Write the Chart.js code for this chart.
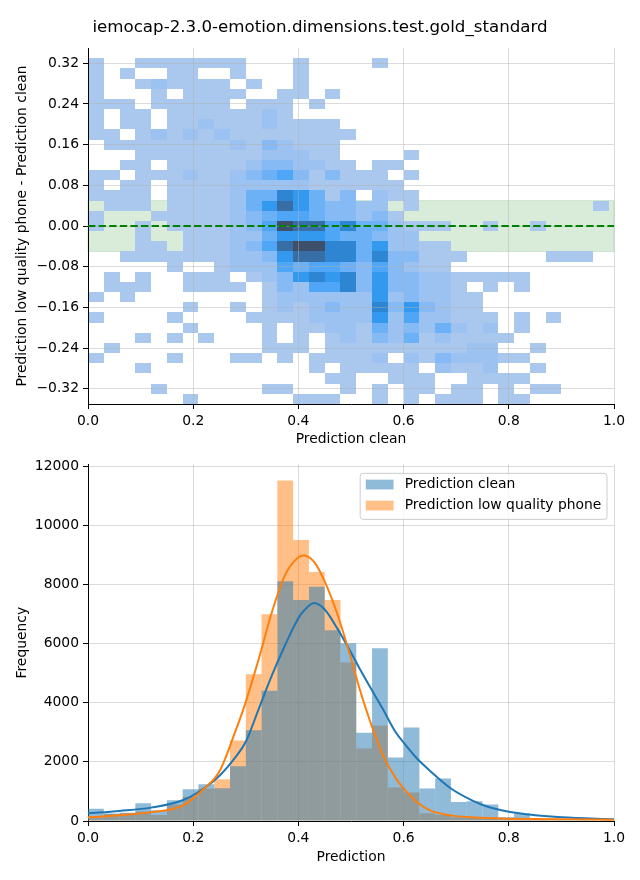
<!DOCTYPE html>
<html>
<head>
<meta charset="utf-8">
<title>iemocap-2.3.0-emotion.dimensions.test.gold_standard</title>
<script src="https://cdn.jsdelivr.net/npm/chart.js@4.4.1/dist/chart.umd.min.js"></script>
<style>
    html, body { margin: 0; padding: 0; background: #fff; }
    #wrap { position: relative; width: 640px; height: 880px; }
    canvas { position: absolute; left: 0; }
    #diffChart { top: 0; }
    #histChart { top: 452px; }
</style>
</head>
<body>
<div id="wrap">
    <canvas id="diffChart" width="640" height="452"></canvas>
    <canvas id="histChart" width="640" height="428"></canvas>
</div>
<script>
// --- Data ---
const chartTitle = 'iemocap-2.3.0-emotion.dimensions.test.gold_standard';

// prediction bins shared by both plots: 33 bins of 0.03 starting at 0
const binWidth = 0.03;

// difference bins: 34 rows of 0.02 starting at -0.35
const diffBinStart = -0.35;
const diffBinHeight = 0.02;

// 2D histogram read as colour level per cell (0 = empty, 9 = densest), top row first
const diffLevels = [
    '1001111111 0001000010 0000000000 000',
    '1010011001 0001000000 0000000000 000',
    '1001211110 1001000000 0000000000 000',
    '1000101111 0011010000 0000000000 000',
    '1110111110 1110100000 0000000000 000',
    '1011011111 1210000000 0000000000 000',
    '1011011211 1211110000 0000000000 000',
    '1101212121 1111111000 0000000000 000',
    '0111111112 1321110000 0000000000 000',
    '0001111111 1222110000 1000000000 000',
    '0011011111 2332211011 0000000000 000',
    '1101112112 3453131110 1000000000 000',
    '1011011112 2222111111 0000000000 000',
    '1111011112 4476413021 1000000000 000',
    '0111011112 4686433220 1000000000 001',
    '1000111112 3455433231 0000000000 000',
    '1001011112 3598857442 1110010010 000',
    '0001001112 2466654432 2000000000 000',
    '0001101112 3589977462 2110000000 000',
    '0011111112 2368877473 3111000001 110',
    '0000010012 2254554353 2110000000 000',
    '0101001110 1236767363 3221111100 000',
    '0111001111 0132557363 3221010100 000',
    '1010000000 0122222262 3221100000 000',
    '0000001001 0121232273 6321100000 000',
    '1000010000 1111222262 5221110101 000',
    '0000001000 0101122142 3242120100 000',
    '0001010100 0101012132 4121111000 000',
    '0100000000 0111011111 1111220010 000',
    '1000010001 1010111120 2132221100 000',
    '0001000000 0000101111 1021120010 000',
    '0000000000 0000011001 1100111100 000',
    '0000100000 0110001010 1101101011 000',
    '0000001000 0001110010 1011101100 000'
];

const agreementBand = [-0.05, 0.05];

// histogram counts per bin
const cleanCounts = [410, 250, 280, 600, 360, 700, 1070, 1240, 1110, 1850, 3070, 4400, 8110, 7470, 7920, 6450,
    6010, 2980, 5840, 2150, 3160, 1100, 1440, 640, 670, 560, 130, 250, 80, 56, 45, 35, 25];
const phoneCounts = [170, 240, 260, 320, 200, 560, 820, 1090, 1410, 2720, 4960, 6990, 11510, 9500, 8420, 7470,
    5360, 2450, 3230, 1130, 960, 260, 210, 125, 100, 80, 55, 45, 35, 25, 20, 15, 10];

// density curves (scaled to counts)
const kdeX = [0, 0.06, 0.12, 0.18, 0.22, 0.25, 0.28, 0.30, 0.325, 0.35, 0.375, 0.40, 0.41, 0.43, 0.45, 0.475,
    0.50, 0.515, 0.535, 0.56, 0.585, 0.60, 0.625, 0.65, 0.69, 0.73, 0.76, 0.80, 0.85, 0.90, 1.0];
const kdeClean = [260, 340, 452, 700, 1100, 1530, 2150, 2680, 3810, 4940, 5960, 6860, 7100, 7370, 7150, 6480,
    5700, 5200, 4570, 3800, 3000, 2650, 2120, 1700, 1100, 700, 480, 310, 195, 125, 56];
const kdePhone = [124, 195, 300, 520, 1080, 1680, 3020, 4030, 5500, 7085, 8330, 8915, 8980, 8760, 8100, 6950,
    5500, 4550, 3440, 2250, 1450, 1100, 640, 360, 190, 124, 100, 80, 65, 56, 45];

// ticks
const predTicks = [0, 0.2, 0.4, 0.6, 0.8, 1.0];
const predTickLabels = ['0.0', '0.2', '0.4', '0.6', '0.8', '1.0'];
const diffTicks = [-0.32, -0.24, -0.16, -0.08, 0, 0.08, 0.16, 0.24, 0.32];
const diffTickLabels = ['\u22120.32', '\u22120.24', '\u22120.16', '\u22120.08', '0.00', '0.08', '0.16', '0.24', '0.32'];
const freqTicks = [0, 2000, 4000, 6000, 8000, 10000, 12000];
const freqTickLabels = ['0', '2000', '4000', '6000', '8000', '10000', '12000'];

// --- Styles ---
const FONT = 'DejaVu Sans';
const GRID = 'rgba(176,176,176,0.45)';
const heatColors = ['#aac8ee', '#9cc2f2', '#86baf4', '#6cb0f6', '#4fa6f6', '#3399ee', '#2e86d2', '#386ea6', '#3d4f6a'];

Chart.defaults.font.family = FONT;
Chart.defaults.font.size = 13.89;
Chart.defaults.color = '#000';

function axisOptions(values, labels, title, min, max, isX, titlePad) {
    return {
        type: 'linear',
        min: min,
        max: max,
        offset: false,
        afterBuildTicks: s => { s.ticks = values.map(v => ({ value: v })); },
        afterFit: s => { if (isX) s.height = 46; else s.width = 88; },
        ticks: { callback: (v, i) => labels[i], padding: 4, autoSkip: false, maxRotation: 0 },
        grid: { offset: false, color: GRID, lineWidth: 1, tickLength: 5, tickColor: '#000', tickWidth: 1 },
        border: { color: '#000', width: 1 },
        title: { display: true, text: title, padding: titlePad }
    };
}

// empty right-hand box so the title is centred on the whole figure
const spacerAxis = {
    type: 'linear',
    position: 'right',
    afterFit: s => { s.width = 26; },
    ticks: { display: false },
    grid: { display: false },
    border: { display: false }
};

// --- 2D histogram drawn under the grid ---
const heatmapPlugin = {
    id: 'heatmap',
    beforeDraw(chart) {
        const { ctx, chartArea: a, scales: { x, y } } = chart;
        ctx.save();

        // agreement band
        const bTop = y.getPixelForValue(agreementBand[1]);
        const bBot = y.getPixelForValue(agreementBand[0]);
        ctx.fillStyle = 'rgba(0,128,0,0.15)';
        ctx.strokeStyle = 'rgba(0,128,0,0.15)';
        ctx.lineWidth = 1;
        ctx.fillRect(a.left, bTop, a.right - a.left, bBot - bTop);
        ctx.strokeRect(a.left, bTop, a.right - a.left, bBot - bTop);

        // cells
        const rows = diffLevels.map(r => r.replace(/ /g, ''));
        rows.forEach((row, r) => {
            const top = diffBinStart + (rows.length - r) * diffBinHeight;
            const y0 = Math.round(y.getPixelForValue(top));
            const y1 = Math.round(y.getPixelForValue(top - diffBinHeight));
            [...row].forEach((ch, c) => {
                const level = Number(ch);
                if (!level) return;
                const x0 = Math.round(x.getPixelForValue(c * binWidth));
                const x1 = Math.round(x.getPixelForValue((c + 1) * binWidth));
                ctx.fillStyle = heatColors[level - 1];
                ctx.fillRect(x0, y0, x1 - x0, y1 - y0);
            });
        });
        ctx.restore();
    }
};

// --- legend box inside the plot, top right ---
const legendBoxPlugin = {
    id: 'legendBox',
    afterDraw(chart) {
        const { ctx, chartArea: a } = chart;
        const items = chart.data.datasets.filter(d => d.type !== 'line');
        ctx.save();
        ctx.font = '13.89px "' + FONT + '"';
        const textW = Math.max(...items.map(d => ctx.measureText(d.label).width));
        const pad = 5.6, handle = 27.8, gap = 11.1, rowH = 21;
        const w = pad + handle + gap + textW + pad;
        const h = 46;
        const left = a.right - 7 - w;
        const top = a.top + 9;
        const r = 3;

        ctx.beginPath();
        ctx.moveTo(left + r, top);
        ctx.lineTo(left + w - r, top);
        ctx.arcTo(left + w, top, left + w, top + r, r);
        ctx.lineTo(left + w, top + h - r);
        ctx.arcTo(left + w, top + h, left + w - r, top + h, r);
        ctx.lineTo(left + r, top + h);
        ctx.arcTo(left, top + h, left, top + h - r, r);
        ctx.lineTo(left, top + r);
        ctx.arcTo(left, top, left + r, top, r);
        ctx.closePath();
        ctx.fillStyle = 'rgba(255,255,255,0.8)';
        ctx.fill();
        ctx.strokeStyle = '#cccccc';
        ctx.lineWidth = 1;
        ctx.stroke();

        items.forEach((d, i) => {
            const cy = top + 11.2 + i * rowH;
            ctx.fillStyle = d.backgroundColor;
            ctx.fillRect(left + pad, cy - 4.9, handle, 9.8);
            ctx.fillStyle = '#000';
            ctx.textBaseline = 'middle';
            ctx.textAlign = 'left';
            ctx.fillText(d.label, left + pad + handle + gap, cy);
        });
        ctx.restore();
    }
};

// --- Top: difference vs clean prediction ---
new Chart(document.getElementById('diffChart'), {
    type: 'scatter',
    data: {
        datasets: [{
            data: [{ x: 0, y: 0 }, { x: 1, y: 0 }],
            showLine: true,
            borderColor: 'green',
            borderWidth: 2,
            borderDash: [7.4, 3.2],
            pointRadius: 0
        }]
    },
    options: {
        responsive: false,
        animation: false,
        events: [],
        devicePixelRatio: 1,
        layout: { padding: { left: 0, right: 0, top: 0, bottom: 2 } },
        plugins: {
            legend: { display: false },
            tooltip: { enabled: false },
            title: {
                display: true,
                text: chartTitle,
                font: { size: 16.67, weight: 'normal' },
                padding: { top: 18, bottom: 10 }
            }
        },
        scales: {
            x: axisOptions(predTicks, predTickLabels, 'Prediction clean', 0, 1, true, { top: 0, bottom: 2.7 }),
            y: axisOptions(diffTicks, diffTickLabels, 'Prediction low quality phone - Prediction clean', -0.35, 0.35, false, { top: 13.7, bottom: 0 }),
            spacer: spacerAxis
        }
    },
    plugins: [heatmapPlugin]
});

// --- Bottom: prediction distributions ---
const binned = counts => counts.map((c, i) => ({ x: (i + 0.5) * binWidth, y: c }));
const curve = ys => kdeX.map((x, i) => ({ x: x, y: ys[i] }));

new Chart(document.getElementById('histChart'), {
    type: 'bar',
    data: {
        datasets: [
            { type: 'line', label: 'kde clean', data: curve(kdeClean), borderColor: '#1f77b4', borderWidth: 2,
              pointRadius: 0, cubicInterpolationMode: 'monotone', order: 0.5 },
            { type: 'line', label: 'kde phone', data: curve(kdePhone), borderColor: '#ff7f0e', borderWidth: 2,
              pointRadius: 0, cubicInterpolationMode: 'monotone', order: 0 },
            { label: 'Prediction clean', data: binned(cleanCounts), backgroundColor: 'rgba(31,119,180,0.5)', order: 1 },
            { label: 'Prediction low quality phone', data: binned(phoneCounts), backgroundColor: 'rgba(255,127,14,0.5)', order: 2 }
        ]
    },
    options: {
        responsive: false,
        animation: false,
        events: [],
        devicePixelRatio: 1,
        layout: { padding: { left: 0, right: 26, top: 12.3, bottom: 13 } },
        datasets: {
            bar: { barPercentage: 1, categoryPercentage: 1, grouped: false, inflateAmount: 0, borderWidth: 0 }
        },
        plugins: {
            legend: { display: false },
            tooltip: { enabled: false }
        },
        scales: {
            x: axisOptions(predTicks, predTickLabels, 'Prediction', 0, 1, true, { top: 0, bottom: 1.7 }),
            y: axisOptions(freqTicks, freqTickLabels, 'Frequency', 0, 12060, false, { top: 13.7, bottom: 0 })
        }
    },
    plugins: [legendBoxPlugin]
});
</script>
</body>
</html>
